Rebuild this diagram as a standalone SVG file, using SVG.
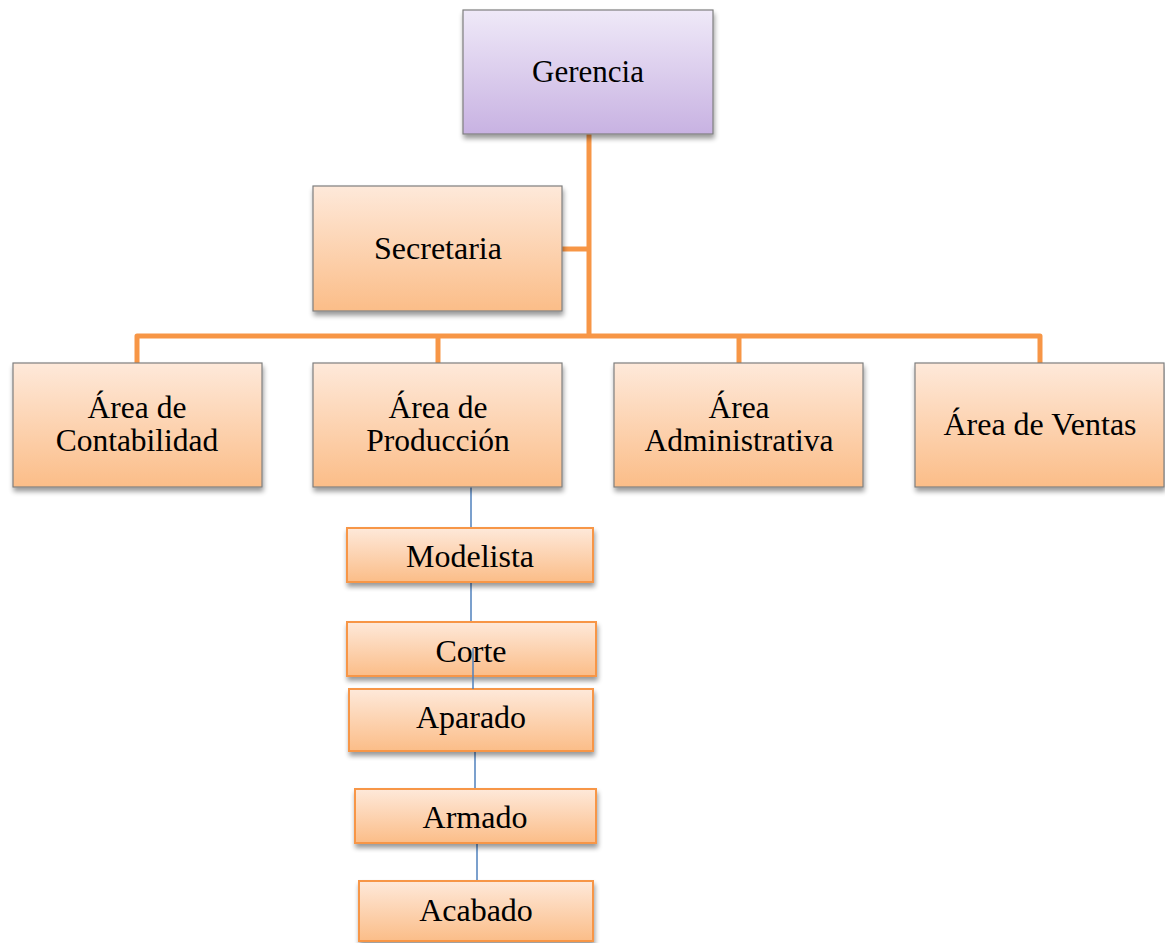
<svg xmlns="http://www.w3.org/2000/svg" width="1165" height="943" viewBox="0 0 1165 943">
  <defs>
    <linearGradient id="gPurple" x1="0" y1="0" x2="0" y2="1">
      <stop offset="0" stop-color="#efe9f8"/>
      <stop offset="1" stop-color="#c8b2e2"/>
    </linearGradient>
    <linearGradient id="gOrange" x1="0" y1="0" x2="0" y2="1">
      <stop offset="0" stop-color="#fee9da"/>
      <stop offset="1" stop-color="#fbbd88"/>
    </linearGradient>
    <filter id="shadow" x="-10%" y="-10%" width="125%" height="135%">
      <feGaussianBlur in="SourceAlpha" stdDeviation="2.5"/>
      <feOffset dx="1" dy="4" result="b"/>
      <feComponentTransfer><feFuncA type="linear" slope="0.4"/></feComponentTransfer>
      <feMerge><feMergeNode/><feMergeNode in="SourceGraphic"/></feMerge>
    </filter>
  </defs>
  <style>
    .big { stroke: #7f7f7f; stroke-width: 1.2; filter: url(#shadow); }
    .sub { fill: url(#gOrange); stroke: #f79646; stroke-width: 2; filter: url(#shadow); }
    .lbl { font-family: "Liberation Serif", "Times New Roman", serif; font-size: 32px; fill: #000; text-anchor: middle; }
    .two { font-size: 31.5px; }
    .trunk { stroke: #f79646; stroke-width: 5; fill: none; stroke-linejoin: round; }
    .chain { stroke: #4f81bd; stroke-width: 1.5; fill: none; }
  </style>

  <rect width="1165" height="943" fill="#ffffff"/>

  <!-- organisational links -->
  <g id="connectors">
    <path class="trunk" d="M589 134 V336"/>
    <path class="trunk" d="M562 249 H589"/>
    <path class="trunk" d="M137 363 V336 H1040 V363"/>
    <path class="trunk" d="M438 336 V363"/>
    <path class="trunk" d="M739 336 V363"/>
    <path class="chain" d="M471 487 V528"/>
    <path class="chain" d="M471 582 V622"/>
    <path class="chain" d="M475 751 V789"/>
    <path class="chain" d="M477 843 V881"/>
  </g>

  <g id="gerencia">
    <rect class="big" x="463" y="10" width="250" height="124" fill="url(#gPurple)"/>
    <text class="lbl" x="588" y="82" style="font-size:31px">Gerencia</text>
  </g>

  <g id="secretaria">
    <rect class="big" x="313" y="186" width="249" height="125" fill="url(#gOrange)"/>
    <text class="lbl" x="438" y="259">Secretaria</text>
  </g>

  <g id="contabilidad">
    <rect class="big" x="13" y="363" width="249" height="124" fill="url(#gOrange)"/>
    <text class="lbl two" x="137" y="418">Área de</text>
    <text class="lbl two" x="137" y="451">Contabilidad</text>
  </g>

  <g id="produccion">
    <rect class="big" x="313" y="363" width="249" height="124" fill="url(#gOrange)"/>
    <text class="lbl two" x="438" y="418">Área de</text>
    <text class="lbl two" x="438" y="451">Producción</text>
  </g>

  <g id="administrativa">
    <rect class="big" x="614" y="363" width="249" height="124" fill="url(#gOrange)"/>
    <text class="lbl two" x="739" y="418">Área</text>
    <text class="lbl two" x="739" y="451">Administrativa</text>
  </g>

  <g id="ventas">
    <rect class="big" x="915" y="363" width="249" height="124" fill="url(#gOrange)"/>
    <text class="lbl" x="1040" y="435">Área de Ventas</text>
  </g>

  <g id="modelista">
    <rect class="sub" x="347" y="528" width="246" height="54"/>
    <text class="lbl" x="470" y="567">Modelista</text>
  </g>

  <g id="corte">
    <rect class="sub" x="347" y="622" width="249" height="54"/>
    <text class="lbl" x="471" y="662">Corte</text>
  </g>

  <g id="aparado">
    <rect class="sub" x="349" y="689" width="244" height="62"/>
    <text class="lbl" x="471" y="728">Aparado</text>
  </g>

  <g id="armado">
    <rect class="sub" x="355" y="789" width="241" height="54"/>
    <text class="lbl" x="475" y="828">Armado</text>
  </g>

  <g id="acabado">
    <rect class="sub" x="359" y="881" width="234" height="60"/>
    <text class="lbl" x="476" y="921">Acabado</text>
  </g>

  <!-- the Corte–Aparado link runs over the Corte box -->
  <path class="chain" d="M473 648 V689"/>
</svg>
